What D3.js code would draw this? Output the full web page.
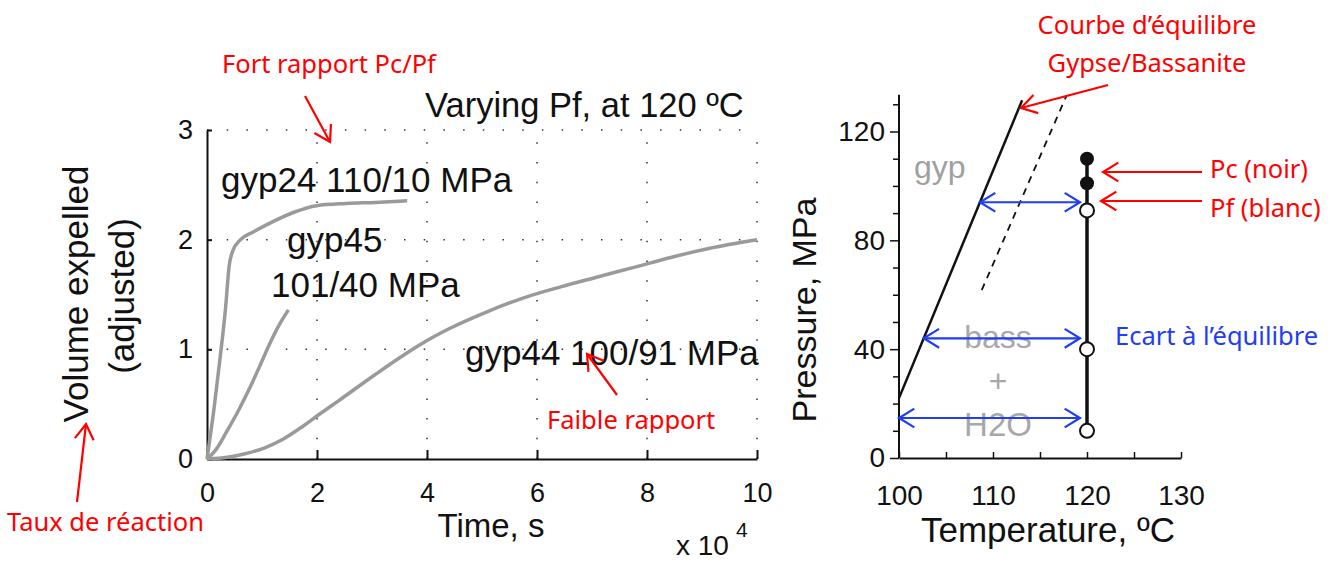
<!DOCTYPE html>
<html>
<head>
<meta charset="utf-8">
<script src="https://cdn.jsdelivr.net/npm/d3@7"></script>
<style>
  body { margin: 0; background: #fff; }
  svg text { font-family: "Liberation Sans", Arial, sans-serif; }
  .note { font-family: "Noto Sans", "Open Sans", sans-serif; }
</style>
</head>
<body>
<div id="chart"></div>
<script>
// ---- data (time in 1e4 s, volume adjusted) ----
var gyp24 = [[0,0],[0.13,0.47],[0.24,0.93],[0.34,1.39],[0.40,1.75],[0.47,1.90],[0.61,2.0],[0.84,2.07],[1.18,2.16],[1.58,2.25],[1.99,2.31],[2.53,2.33],[3.06,2.34],[3.64,2.355]];
var gyp45 = [[0,0],[0.17,0.09],[0.37,0.26],[0.57,0.44],[0.77,0.64],[0.98,0.87],[1.14,1.05],[1.31,1.22],[1.48,1.36]];
var gyp44 = [[0,0],[0.37,0.015],[0.71,0.05],[1.04,0.1],[1.38,0.18],[1.72,0.29],[2.05,0.41],[2.39,0.53],[3.06,0.77],[3.74,1.0],[4.0,1.08],[4.41,1.19],[5.08,1.34],[5.76,1.47],[6.43,1.57],[7.1,1.66],[7.78,1.75],[8.45,1.84],[9.12,1.92],[10,2.0]];
var timeTicks = [0, 2, 4, 6, 8, 10];
var volTicks = [0, 1, 2, 3];

// ---- data (phase diagram) ----
var eqT = [100, 113.1], eqP = [22, 131.5];
var dashT = [108.8, 117.8], dashP = [61.7, 133];
var sampleT = 120;
var pcP = [110, 101];
var pfP = [91, 40, 10];
var offsetP = [94, 44, 14.7];
var tempTicks = [100, 110, 120, 130];
var presTicks = [0, 40, 80, 120];

var width = 1330, height = 562;
var svg = d3.select('#chart').append('svg')
    .attr('width', width).attr('height', height);

var defs = svg.append('defs');
defs.append('clipPath').attr('id', 'cutText')
    .append('rect').attr('x', 0).attr('y', 0).attr('width', width).attr('height', 433);

// ================= left chart =================
var x = d3.scaleLinear().domain([0, 10]).range([207, 757]);
var y = d3.scaleLinear().domain([0, 3]).range([459, 130]);

// dotted grid
svg.selectAll('.hgrid').data(volTicks.slice(1)).enter().append('line')
    .attr('x1', x(0)).attr('x2', x(10))
    .attr('y1', d => y(d)).attr('y2', d => y(d))
    .attr('stroke', '#333').attr('stroke-width', 1.5).attr('stroke-dasharray', '1.5,18.2');
svg.selectAll('.vgrid').data(timeTicks.slice(1)).enter().append('line')
    .attr('x1', d => x(d)).attr('x2', d => x(d))
    .attr('y1', y(0)).attr('y2', y(3))
    .attr('stroke', '#333').attr('stroke-width', 1.5).attr('stroke-dasharray', '1.5,18.2');

var xAxis = svg.append('g').attr('transform', 'translate(0,' + y(0) + ')')
    .call(d3.axisBottom(x).tickValues(timeTicks).tickSize(-9).tickPadding(24).tickSizeOuter(0));
var yAxis = svg.append('g').attr('transform', 'translate(' + x(0) + ',0)')
    .call(d3.axisLeft(y).tickValues(volTicks).tickFormat(d3.format('d')).tickSize(-5).tickPadding(14).tickSizeOuter(0));
[xAxis, yAxis].forEach(function(g) {
    g.select('.domain').attr('stroke', '#111').attr('stroke-width', 2);
    g.selectAll('.tick line').attr('stroke', '#111').attr('stroke-width', 2);
    g.selectAll('.tick text').attr('font-size', 27).attr('fill', '#111')
        .attr('font-family', '"Liberation Sans", Arial, sans-serif');
});

var line = d3.line().x(d => x(d[0])).y(d => y(d[1])).curve(d3.curveMonotoneX);
[gyp24, gyp45, gyp44].forEach(function(s) {
    svg.append('path').datum(s).attr('d', line)
        .attr('fill', 'none').attr('stroke', '#9a9a9a').attr('stroke-width', 3.5);
});

function txt(t, px, py, size, opts) {
    opts = opts || {};
    var e = svg.append('text').attr('x', px).attr('y', py).attr('font-size', size)
        .attr('fill', opts.fill || '#111').attr('text-anchor', opts.anchor || 'start')
        .attr('dominant-baseline', opts.base || 'middle').text(t);
    if (opts.cls) e.attr('class', opts.cls);
    return e;
}

txt('Varying Pf, at 120 ºC', 425, 117, 34.5, {base: 'alphabetic'});
txt('gyp24 110/10 MPa', 221, 183, 35);
txt('gyp45', 287, 243, 35);
txt('101/40 MPa', 271, 288, 35);
txt('gyp44 100/91 MPa', 465, 356, 35);
txt('Time, s', 491, 537, 33, {anchor: 'middle', base: 'alphabetic'});
txt('x 10', 676, 555, 28, {base: 'alphabetic'});
txt('4', 736, 537, 21, {base: 'alphabetic'});

svg.append('text').attr('transform', 'translate(79,294) rotate(-90)')
    .attr('text-anchor', 'middle').attr('dominant-baseline', 'middle')
    .attr('font-size', 35).attr('fill', '#111').text('Volume expelled');
svg.append('text').attr('transform', 'translate(125,296) rotate(-90)')
    .attr('text-anchor', 'middle').attr('dominant-baseline', 'middle')
    .attr('font-size', 35).attr('fill', '#111').text('(adjusted)');

// ================= right chart =================
var tx = d3.scaleLinear().domain([100, 130]).range([899, 1181]);
var py = d3.scaleLinear().domain([0, 120]).range([458, 131.5]);

var txAxis = svg.append('g').attr('transform', 'translate(0,' + py(0) + ')')
    .call(d3.axisBottom(tx).tickValues(d3.range(100, 131, 5)).tickSize(-6).tickPadding(27).tickSizeOuter(0)
        .tickFormat(d => tempTicks.indexOf(d) >= 0 ? d : ''));
var pyAxis = svg.append('g').attr('transform', 'translate(' + tx(100) + ',0)')
    .call(d3.axisLeft(py).tickValues(d3.range(0, 131, 10)).tickSize(6).tickPadding(8).tickSizeOuter(0)
        .tickFormat(d => presTicks.indexOf(d) >= 0 ? d : ''));
pyAxis.select('.domain').attr('d', 'M0,' + py(0) + 'V' + py(133.5));
[txAxis, pyAxis].forEach(function(g) {
    g.select('.domain').attr('stroke', '#111').attr('stroke-width', 2);
    g.selectAll('.tick line').attr('stroke', '#111').attr('stroke-width', 1.5);
    g.selectAll('.tick text').attr('font-size', 28).attr('fill', '#111')
        .attr('font-family', '"Liberation Sans", Arial, sans-serif');
});
pyAxis.selectAll('.tick').filter(d => presTicks.indexOf(d) >= 0).select('line').attr('x2', -9);

// phase labels
txt('gyp', 914, 170, 32, {fill: '#a0a0a0'});
txt('bass', 998, 340, 32, {fill: '#a8a8a8', anchor: 'middle'});
txt('+', 998, 384, 32, {fill: '#a8a8a8', anchor: 'middle'});
txt('H2O', 998, 427, 33, {fill: '#a8a8a8', anchor: 'middle'});

// equilibrium lines
svg.append('line').attr('x1', tx(eqT[0])).attr('y1', py(eqP[0])).attr('x2', tx(eqT[1])).attr('y2', py(eqP[1]))
    .attr('stroke', '#111').attr('stroke-width', 2.5);
svg.append('line').attr('x1', tx(dashT[0])).attr('y1', py(dashP[0])).attr('x2', tx(dashT[1])).attr('y2', py(dashP[1]))
    .attr('stroke', '#111').attr('stroke-width', 1.8).attr('stroke-dasharray', '7,6');

// sample column
svg.append('line').attr('x1', tx(sampleT)).attr('x2', tx(sampleT))
    .attr('y1', py(d3.min(pfP))).attr('y2', py(d3.max(pcP)))
    .attr('stroke', '#111').attr('stroke-width', 3.5);
svg.selectAll('.pc').data(pcP).enter().append('circle')
    .attr('cx', tx(sampleT)).attr('cy', d => py(d)).attr('r', 7).attr('fill', '#111');
svg.selectAll('.pf').data(pfP).enter().append('circle')
    .attr('cx', tx(sampleT)).attr('cy', d => py(d)).attr('r', 7)
    .attr('fill', '#fff').attr('stroke', '#111').attr('stroke-width', 2);

// arrows
function arrowHead(x1, y1, x2, y2, color, len, w) {
    var a = Math.atan2(y2 - y1, x2 - x1), s = 0.55;
    svg.append('path')
        .attr('d', 'M' + (x2 - len * Math.cos(a - s)) + ',' + (y2 - len * Math.sin(a - s)) +
            'L' + x2 + ',' + y2 +
            'L' + (x2 - len * Math.cos(a + s)) + ',' + (y2 - len * Math.sin(a + s)))
        .attr('fill', 'none').attr('stroke', color).attr('stroke-width', w);
}
function arrow(x1, y1, x2, y2, color, both) {
    svg.append('line').attr('x1', x1).attr('y1', y1).attr('x2', x2).attr('y2', y2)
        .attr('stroke', color).attr('stroke-width', 2.2);
    arrowHead(x1, y1, x2, y2, color, 18, 2.2);
    if (both) arrowHead(x2, y2, x1, y1, color, 18, 2.2);
}
var slope = (eqP[1] - eqP[0]) / (eqT[1] - eqT[0]);
offsetP.forEach(function(p) {
    var t0 = Math.max(100, eqT[0] + (p - eqP[0]) / slope);
    arrow(tx(t0), py(p), tx(sampleT) - 7, py(p), '#1f3df5', true);
});

svg.append('text').attr('transform', 'translate(807,310) rotate(-90)')
    .attr('text-anchor', 'middle').attr('dominant-baseline', 'middle')
    .attr('font-size', 34).attr('fill', '#111').text('Pressure, MPa');
txt('Temperature, ºC', 1048, 542, 35, {anchor: 'middle', base: 'alphabetic'});

// ================= annotations =================
var red = '#ff0000';
txt('Fort rapport Pc/Pf', 222, 66, 25.5, {fill: red, cls: 'note'});
arrow(305, 96, 330, 142, red, false);
txt('Faible rapport', 547, 422, 25.5, {fill: red, cls: 'note'}).attr('clip-path', 'url(#cutText)');
arrow(617, 395, 587, 354, red, false);
txt('Taux de réaction', 7, 524, 25.5, {fill: red, cls: 'note'});
arrow(77, 502, 86, 424, red, false);
txt('Courbe d’équilibre', 1147, 27, 25.5, {fill: red, cls: 'note', anchor: 'middle'});
txt('Gypse/Bassanite', 1147, 65, 25.5, {fill: red, cls: 'note', anchor: 'middle'});
arrow(1108, 85, 1021, 108, red, false);
txt('Pc (noir)', 1210, 171, 25.5, {fill: red, cls: 'note'});
arrow(1202, 172, 1103, 172, red, false);
txt('Pf (blanc)', 1210, 210, 25.5, {fill: red, cls: 'note'});
arrow(1202, 201, 1101, 201, red, false);
txt('Ecart à l’équilibre', 1115, 338, 25.5, {fill: '#1f3df5', cls: 'note'});
</script>
</body>
</html>
